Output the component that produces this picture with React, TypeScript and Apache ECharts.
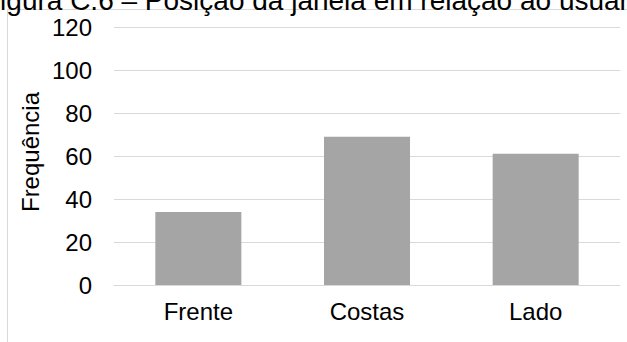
import React, { useEffect, useRef } from "react";
import * as echarts from "echarts";

const categories = ["Frente", "Costas", "Lado"];
const frequencia = [34, 69, 61];
const yTicks = { min: 0, max: 120, interval: 20 };
const titleText = "Figura C.6 – Posição da janela em relação ao usuário";
const yAxisName = "Frequência";

export default function App() {
  const ref = useRef<HTMLDivElement>(null);
  useEffect(() => {
    if (!ref.current) return;
    const chart = echarts.init(ref.current, null, { renderer: "svg" });
    const font = "Arial, 'Liberation Sans', sans-serif";
    chart.setOption({
      animation: false,
      backgroundColor: "#ffffff",
      textStyle: { fontFamily: font },
      grid: { left: 114, right: 7, top: 27, bottom: 57, containLabel: false },
      graphic: [
        {
          type: "rect",
          silent: true,
          shape: { x: 7.5, y: 9.5, width: 700, height: 400 },
          style: { fill: "none", stroke: "#d9d9d9", lineWidth: 1 },
        },
        {
          type: "text",
          silent: true,
          x: -17,
          y: 0,
          style: {
            text: titleText,
            font: `28px ${font}`,
            fill: "#000000",
            verticalAlign: "middle",
            align: "left",
          },
        },
        {
          type: "text",
          silent: true,
          x: 30,
          y: 152,
          rotation: Math.PI / 2,
          style: {
            text: yAxisName,
            font: `24px ${font}`,
            fill: "#000000",
            verticalAlign: "middle",
            align: "center",
          },
        },
      ],
      xAxis: {
        type: "category",
        data: categories,
        axisLine: { show: true, lineStyle: { color: "#d9d9d9", width: 1 } },
        axisTick: { show: false },
        axisLabel: { color: "#000000", fontSize: 24, fontFamily: font, margin: 14 },
      },
      yAxis: {
        type: "value",
        min: yTicks.min,
        max: yTicks.max,
        interval: yTicks.interval,
        axisLine: { show: false },
        axisTick: { show: false },
        splitLine: { lineStyle: { color: "#d9d9d9", width: 1 } },
        axisLabel: { color: "#000000", fontSize: 24, fontFamily: font, margin: 22 },
      },
      series: [
        {
          type: "bar",
          data: frequencia,
          barWidth: "51%",
          itemStyle: { color: "#a5a5a5" },
        },
      ],
    });
    return () => chart.dispose();
  }, []);
  return <div ref={ref} style={{ width: 627, height: 342, position: "absolute", left: 0, top: 0 }} />;
}
